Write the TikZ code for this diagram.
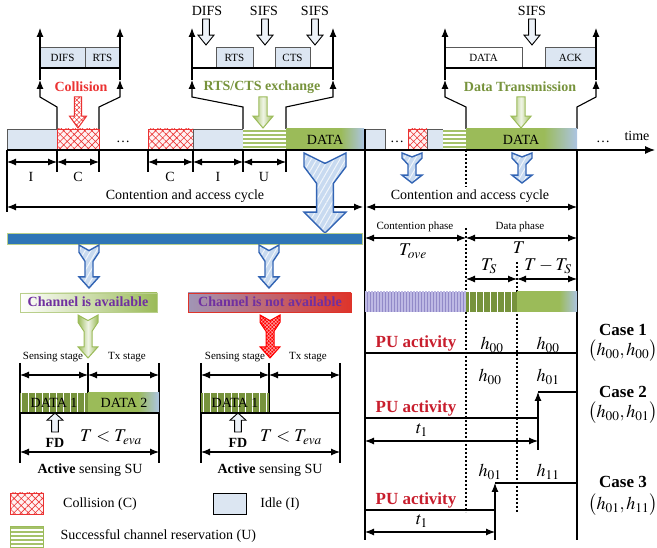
\documentclass[tikz,border=0pt]{standalone}
\usepackage{mathptmx}
\usepackage{fontspec}
\setmainfont{Liberation Serif}
\usetikzlibrary{arrows.meta,patterns.meta}

\definecolor{idleblue}{RGB}{220,230,242}
\definecolor{ugreen}{RGB}{155,187,89}
\definecolor{dgreen}{RGB}{119,147,60}
\definecolor{fadeblue}{RGB}{172,196,226}
\definecolor{collred}{RGB}{235,50,50}
\definecolor{purp}{RGB}{112,48,160}
\definecolor{lav}{RGB}{146,138,200}
\definecolor{lavlight}{RGB}{190,185,228}
\definecolor{barblue}{RGB}{46,117,182}
\definecolor{arrblue}{RGB}{50,100,180}
\definecolor{hatchfill}{RGB}{200,218,240}
\definecolor{pured}{RGB}{200,30,45}
\definecolor{edgegray}{RGB}{89,89,89}
\definecolor{notav}{RGB}{160,150,182}
\definecolor{notred}{RGB}{222,52,42}

\pgfdeclarehorizontalshading{datafade}{100bp}{color(0bp)=(ugreen); color(25bp)=(ugreen); color(60bp)=(ugreen); color(75bp)=(fadeblue); color(100bp)=(fadeblue)}

\newcommand\forkarr[5]{%
  \path[#5] ({#1-0.5*#3},#2) -- (#1,{#2+0.13*#4}) -- ({#1+0.5*#3},#2)
    -- ({#1+0.5*#3},{#2+0.17*#4}) -- ({#1+0.2*#3},{#2+0.38*#4})
    -- ({#1+0.2*#3},{#2+0.74*#4}) -- ({#1+0.5*#3},{#2+0.74*#4})
    -- (#1,{#2+#4}) -- ({#1-0.5*#3},{#2+0.74*#4})
    -- ({#1-0.2*#3},{#2+0.74*#4}) -- ({#1-0.2*#3},{#2+0.38*#4})
    -- ({#1-0.5*#3},{#2+0.17*#4}) -- cycle;}
\newcommand\blockarr[5]{%
  \path[#5] ({#1-0.21*#3},#2) -- ({#1+0.21*#3},#2) -- ({#1+0.21*#3},{#2+0.62*#4})
    -- ({#1+0.5*#3},{#2+0.62*#4}) -- (#1,{#2+#4}) -- ({#1-0.5*#3},{#2+0.62*#4})
    -- ({#1-0.21*#3},{#2+0.62*#4}) -- cycle;}

\tikzset{
  lbl/.style={font=\fontsize{14}{16}\selectfont},
  sml/.style={font=\fontsize{11}{13}\selectfont},
  mth/.style={font=\fontsize{18}{20}\selectfont},
  bigb/.style={font=\fontsize{17}{19}\selectfont\bfseries},
  idle/.style={draw=edgegray, line width=0.6pt, fill=idleblue},
  coll/.style={draw=collred, line width=0.6pt, preaction={fill=red!5}, pattern={Hatch[angle=45,distance=5pt,line width=0.6pt]}, pattern color=collred},
  resv/.style={fill=white, path picture={
      \foreach \s in {2,6,...,26}
        \draw[ugreen!90, line width=1.7pt] ([yshift=-\s pt]path picture bounding box.north west)
          -- ([yshift=-\s pt]path picture bounding box.north east);}},
  darkdata/.style={preaction={fill=dgreen}, pattern={Lines[angle=90,distance=7pt,line width=0.8pt]}, pattern color=white},
  purpdata/.style={preaction={fill=lav}, pattern={Lines[angle=90,distance=3pt,line width=1.2pt]}, pattern color=lavlight},
  dim/.style={{Latex[length=9pt,width=7pt]}-{Latex[length=9pt,width=7pt]}, line width=1.1pt},
  upa/.style={-{Latex[length=9pt,width=7pt]}, line width=1.1pt},
  thick line/.style={line width=1.1pt},
  dots line/.style={line width=1.1pt, dash pattern=on 2pt off 2pt},
  hollow/.style={draw=black, line width=0.9pt, fill=idleblue!50},
  hatchblue/.style={draw=arrblue, line width=1.4pt, preaction={fill=hatchfill}, pattern={Lines[angle=60,distance=5pt,line width=1pt]}, pattern color=white!75!hatchfill},
  greenarr/.style={draw=ugreen, line width=1pt, left color=ugreen, right color=ugreen, middle color=ugreen!15},
  redarr/.style={draw=red, line width=1pt, preaction={fill=red}, pattern={Hatch[angle=45,distance=2.5pt,line width=0.5pt]}, pattern color=white!65!red},
  collarr/.style={draw=collred, line width=1pt, preaction={fill=white}, pattern={Hatch[angle=45,distance=3.5pt,line width=0.5pt]}, pattern color=collred},
}

\begin{document}
\begin{tikzpicture}[x=1pt,y=-1pt]
  \useasboundingbox (0,0) rectangle (657,548);

  \path[idle] (40,47) rectangle (85,68);
  \path[idle] (85,47) rectangle (120,68);
  \node[sml] (difsbox) at (62.5,57.5) {DIFS};
  \node[sml] (rtsboxA) at (102.5,57.5) {RTS};
  \path[idle] (216,47) rectangle (253,68);
  \path[idle] (275,47) rectangle (310,68);
  \node[sml] (rtsboxB) at (234.5,57.5) {RTS};
  \node[sml] (ctsbox) at (292.5,57.5) {CTS};
  \path[draw=edgegray, line width=0.6pt, fill=white] (445,47) rectangle (522,68);
  \path[idle] (545,47) rectangle (596,68);
  \node[sml] (databox) at (483.5,57.5) {DATA};
  \node[sml] (ackbox) at (570.5,57.5) {ACK};

  \draw[line width=1.3pt] (40,68) -- (120,68);
  \draw[line width=1.3pt] (192,68) -- (333,68);
  \draw[line width=1.3pt] (445,68) -- (596,68);

  \node[lbl] (difsA) at (207,11) {DIFS};
  \node[lbl] (sifsA) at (264,11) {SIFS};
  \node[lbl] (sifsB) at (315,11) {SIFS};
  \node[lbl] (sifsC) at (532,11) {SIFS};
  \blockarr{206}{19}{16}{26}{hollow}
  \blockarr{265}{19}{16}{26}{hollow}
  \blockarr{315}{19}{16}{26}{hollow}
  \blockarr{532}{19}{16}{26}{hollow}

  \draw[upa] (57,129) -- (57,107) -- (40,97) -- (40,80);
  \draw[upa] (40,80) -- (40,28);
  \draw[upa] (99,129) -- (99,107) -- (120,97) -- (120,80);
  \draw[upa] (120,80) -- (120,28);
  \draw[upa] (243,129) -- (243,107) -- (192,97) -- (192,80);
  \draw[upa] (192,80) -- (192,28);
  \draw[upa] (286,129) -- (286,107) -- (333,97) -- (333,80);
  \draw[upa] (333,80) -- (333,28);
  \draw[upa] (466,129) -- (466,107) -- (445,97) -- (445,80);
  \draw[upa] (445,80) -- (445,28);
  \draw[upa] (577,129) -- (577,107) -- (596,97) -- (596,80);
  \draw[upa] (596,80) -- (596,28);

  \node[lbl, font=\fontsize{14}{16}\selectfont\bfseries, text=collred] (collT) at (81,87) {Collision};
  \node[lbl, font=\fontsize{14}{16}\selectfont\bfseries, text=dgreen] (rtsctsT) at (262,87) {RTS/CTS exchange};
  \node[lbl, font=\fontsize{14}{16}\selectfont\bfseries, text=dgreen] (dataT) at (520,87) {Data Transmission};
  \blockarr{78}{97}{17}{31}{collarr}
  \blockarr{263}{97}{20}{31}{greenarr}
  \blockarr{521}{97}{20}{31}{greenarr}

  \path[idle] (7,129) rectangle (57,150);
  \path[coll] (57,129) rectangle (99,150);
  \path[coll] (148,129) rectangle (193,150);
  \path[idle] (193,129) rectangle (243,150);
  \path[resv] (243,129) rectangle (286,150);
  \shade[shading=datafade] (286,129) rectangle (364,150);
  \path[idle] (365,129) rectangle (385,150);
  \path[coll] (408,129) rectangle (427,150);
  \path[idle] (427,129) rectangle (443,150);
  \path[resv] (443,129) rectangle (466,150);
  \shade[shading=datafade] (466,129) rectangle (577,150);
  \node[lbl] (dataA) at (325,140) {DATA};
  \node[lbl] (dataB) at (521,140) {DATA};
  \node[lbl] (dotsA) at (123,142) {\dots};
  \node[lbl] (dotsB) at (397,142) {\dots};
  \node[lbl] (dotsC) at (603,142) {\dots};
  \node[lbl] (timeT) at (637,136) {time};
  \draw[line width=1.1pt, -{Latex[length=10pt,width=8pt]}] (7,150) -- (655,150);

  \draw[thick line] (7,150) -- (7,212);
  \foreach \x in {57,99,148,193,243,286}
    \draw[thick line] (\x,150) -- (\x,172);
  \foreach \n/\x in {a/7,b/57,c/99,d/148,e/193,f/243,g/286}
    \coordinate (k\n) at (\x,162);
  \draw[dim] (ka) -- (kb);
  \draw[dim] (kb) -- (kc);
  \draw[dim] (kd) -- (ke);
  \draw[dim] (ke) -- (kf);
  \draw[dim] (kf) -- (kg);
  \node[lbl] (lI1) at (31,177) {I};
  \node[lbl] (lC1) at (78,177) {C};
  \node[lbl] (lC2) at (170,177) {C};
  \node[lbl] (lI2) at (218,177) {I};
  \node[lbl] (lU) at (264,177) {U};

  \node[lbl] (cycA) at (185,196) {Contention and access cycle};
  \node[lbl] (cycB) at (470,196) {Contention and access cycle};
  \draw[dim] (7,207) -- (363,207);
  \draw[dim] (366,207) -- (577,207);

  \draw[thick line] (365,129) -- (365,540);
  \draw[thick line] (577,150) -- (577,540);
  \draw[dots line] (466,150) -- (466,187);
  \draw[dots line] (466,228) -- (466,512);
  \draw[dots line] (517,262) -- (517,512);

  \forkarr{325}{153}{42}{80}{hatchblue}
  \forkarr{412}{153}{20}{30}{hatchblue}
  \forkarr{522}{153}{20}{30}{hatchblue}

  \node[sml] (contPh) at (415,227) {Contention phase};
  \node[sml] (dataPh) at (520,227) {Data phase};
  \draw[dim] (365,238) -- (466,238);
  \draw[dim] (466,238) -- (577,238);
  \node[mth] (tove) at (413,251) {$T_{ove}$};
  \node[mth] (tT) at (519,248) {$T$};
  \node[mth] (tS) at (489,266) {$T_S$};
  \node[mth] (tTS) at (548,266) {$T-T_S$};
  \draw[dim] (466,279) -- (517,279);
  \draw[dim] (517,279) -- (577,279);

  \path[purpdata] (365,292) rectangle (466,312);
  \path[darkdata] (466,292) rectangle (517,312);
  \shade[shading=datafade] (517,292) rectangle (577,312);

  \node[bigb, text=pured] (puA) at (416,343) {PU activity};
  \node[mth] (hA1) at (492,345) {$h_{00}$};
  \node[mth] (hA2) at (548,345) {$h_{00}$};
  \draw[thick line] (365,353) -- (577,353);
  \node[bigb] (case1) at (623,330) {Case 1};
  \node[mth] (pair1) at (623,351) {$\bigl(h_{00},h_{00}\bigr)$};

  \node[bigb, text=pured] (puB) at (416,408) {PU activity};
  \node[mth] (hB1) at (490,377) {$h_{00}$};
  \node[mth] (hB2) at (548,377) {$h_{01}$};
  \draw[thick line] (365,418) -- (538,418);
  \draw[upa] (538,450) -- (538,392);
  \draw[thick line] (538,392) -- (577,392);
  \draw[dim] (365,441) -- (538,441);
  \node[mth] (t1B) at (422,430) {$t_1$};
  \node[bigb] (case2) at (623,392) {Case 2};
  \node[mth] (pair2) at (623,413) {$\bigl(h_{00},h_{01}\bigr)$};

  \node[bigb, text=pured] (puC) at (416,500) {PU activity};
  \node[mth] (hC1) at (490,472) {$h_{01}$};
  \node[mth] (hC2) at (548,472) {$h_{11}$};
  \draw[thick line] (365,510) -- (495,510);
  \draw[upa] (495,540) -- (495,483);
  \draw[thick line] (495,483) -- (577,483);
  \draw[dim] (365,532) -- (495,532);
  \node[mth] (t1C) at (422,521) {$t_1$};
  \node[bigb] (case3) at (623,482) {Case 3};
  \node[mth] (pair3) at (623,505) {$\bigl(h_{01},h_{11}\bigr)$};

  \path[fill=barblue, draw=ugreen!70, line width=0.6pt] (7,233) rectangle (362,244);
  \forkarr{89}{245}{20}{43}{hatchblue}
  \forkarr{269}{245}{20}{43}{hatchblue}

  \shadedraw[left color=white, right color=ugreen, draw=ugreen!70, line width=0.8pt] (20,293) rectangle (157,312);
  \shadedraw[left color=notav, right color=notred, draw=notred, line width=0.8pt] (188,293) rectangle (351,312);
  \node[lbl, font=\fontsize{14}{16}\selectfont\bfseries, text=purp] (avail) at (88,302) {Channel is available};
  \node[lbl, font=\fontsize{14}{16}\selectfont\bfseries, text=purp] (notavail) at (270,302) {Channel is not available};
  \forkarr{88}{315}{20}{43}{greenarr}
  \forkarr{270}{315}{20}{43}{redarr}

  \node[sml] (sensA) at (53,357) {Sensing stage};
  \node[sml] (txA) at (127,357) {Tx stage};
  \draw[thick line] (20,363) -- (20,463);
  \draw[thick line] (88,363) -- (88,413);
  \draw[thick line] (159,363) -- (159,463);
  \draw[dim] (20,375) -- (88,375);
  \draw[dim] (88,375) -- (159,375);
  \path[darkdata] (20,393) rectangle (88,413);
  \shade[shading=datafade] (88,393) rectangle (159,413);
  \draw[thick line] (20,413) -- (159,413);
  \node[lbl] (d1A) at (54,403) {DATA 1};
  \node[lbl] (d2A) at (124,403) {DATA 2};
  \blockarr{55}{432}{16}{-19}{hollow}
  \node[lbl, font=\fontsize{14}{16}\selectfont\bfseries] (fdA) at (55,443) {FD};
  \node[mth] (tevaA) at (111,437) {$T<T_{eva}$};
  \draw[dim] (20,452) -- (159,452);
  \node[lbl] (suA) at (90,470) {\textbf{Active} sensing SU};

  \node[sml] (sensB) at (235,357) {Sensing stage};
  \node[sml] (txB) at (308,357) {Tx stage};
  \draw[thick line] (201,363) -- (201,463);
  \draw[thick line] (269,363) -- (269,413);
  \draw[thick line] (340,363) -- (340,463);
  \draw[dim] (201,375) -- (269,375);
  \draw[dim] (269,375) -- (340,375);
  \path[darkdata] (201,393) rectangle (269,413);
  \draw[thick line] (201,413) -- (340,413);
  \node[lbl] (d1B) at (235,403) {DATA 1};
  \blockarr{238}{432}{16}{-19}{hollow}
  \node[lbl, font=\fontsize{14}{16}\selectfont\bfseries] (fdB) at (238,443) {FD};
  \node[mth] (tevaB) at (291,437) {$T<T_{eva}$};
  \draw[dim] (201,452) -- (340,452);
  \node[lbl] (suB) at (270,470) {\textbf{Active} sensing SU};

  \path[coll] (10,493) rectangle (43,514);
  \node[lbl] (legC) at (100,504) {Collision (C)};
  \path[idle, draw=black] (213,493) rectangle (246,514);
  \node[lbl] (legI) at (280,504) {Idle (I)};
  \path[resv, draw=ugreen, line width=0.6pt] (10,526) rectangle (43,547);
  \node[lbl, anchor=west] (legU) at (57,536) {Successful channel reservation (U)};
\end{tikzpicture}
\end{document}
